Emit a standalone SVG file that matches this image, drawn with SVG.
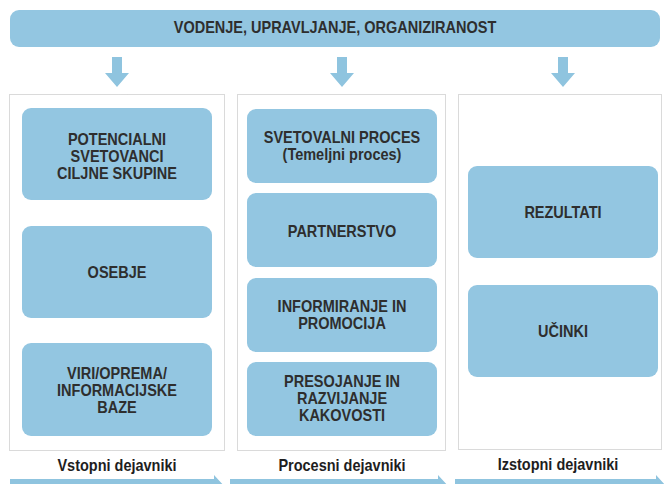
<svg xmlns="http://www.w3.org/2000/svg" width="664" height="484" viewBox="0 0 664 484">
<defs>
<style>
.box{fill:#93c6e1;}
.col{fill:none;stroke:#b4b4b4;stroke-width:1;stroke-dasharray:1 1;}
.t{font-family:"Liberation Sans",Arial,Helvetica,sans-serif;font-weight:bold;font-size:14.5px;fill:#2e2e2e;text-anchor:middle;}
.lbl{font-family:"Liberation Sans",Arial,Helvetica,sans-serif;font-weight:bold;font-size:14.5px;fill:#1e1e1e;text-anchor:middle;}
.arr{fill:#8fc4df;}
</style>
</defs>
<rect width="664" height="484" fill="#ffffff"/>

<g id="banner">
<rect class="box" x="10" y="10" width="650" height="37" rx="9"/>
<text class="t" transform="translate(335,33) scale(1,1.15)">VODENJE, UPRAVLJANJE, ORGANIZIRANOST</text>
</g>

<g id="columns">
<rect class="col" x="9.5" y="94.5" width="215" height="356"/>
<rect class="col" x="237.5" y="94.5" width="208" height="356"/>
<rect class="col" x="458.5" y="94.5" width="203" height="355"/>
</g>

<g id="connectors">
<polygon class="arr" points="112,57 122,57 122,73 129,73 117,87 105,73 112,73"/>
<polygon class="arr" points="337,57 347,57 347,73 354,73 342,87 330,73 337,73"/>
<polygon class="arr" points="558,57 568,57 568,73 575,73 563,87 551,73 558,73"/>
<polygon class="arr" points="10,479 214,479 214,475 226,488 10,488"/>
<polygon class="arr" points="230,479 438,479 438,475 450,488 230,488"/>
<polygon class="arr" points="455,479 656,479 656,475 668,488 455,488"/>
</g>

<g id="potencialni">
<rect class="box" x="22" y="108" width="190" height="92" rx="9"/>
<text class="t" transform="translate(117,145) scale(1,1.15)">POTENCIALNI</text>
<text class="t" transform="translate(117,162) scale(1,1.15)">SVETOVANCI</text>
<text class="t" transform="translate(117,179) scale(1,1.15)">CILJNE SKUPINE</text>
</g>
<g id="osebje">
<rect class="box" x="22" y="226" width="190" height="92" rx="9"/>
<text class="t" transform="translate(117,278) scale(1,1.15)">OSEBJE</text>
</g>
<g id="viri">
<rect class="box" x="22" y="343" width="190" height="93" rx="9"/>
<text class="t" transform="translate(117,379) scale(1,1.15)">VIRI/OPREMA/</text>
<text class="t" transform="translate(117,396) scale(1,1.15)">INFORMACIJSKE</text>
<text class="t" transform="translate(117,413) scale(1,1.15)">BAZE</text>
</g>

<g id="svetovalni">
<rect class="box" x="247" y="109" width="190" height="74" rx="9"/>
<text class="t" transform="translate(342,143) scale(1,1.15)">SVETOVALNI PROCES</text>
<text class="t" transform="translate(342,160) scale(1,1.15)">(Temeljni proces)</text>
</g>
<g id="partnerstvo">
<rect class="box" x="247" y="193" width="190" height="74" rx="9"/>
<text class="t" transform="translate(342,237) scale(1,1.15)">PARTNERSTVO</text>
</g>
<g id="informiranje">
<rect class="box" x="247" y="278" width="190" height="74" rx="9"/>
<text class="t" transform="translate(342,312) scale(1,1.15)">INFORMIRANJE IN</text>
<text class="t" transform="translate(342,329) scale(1,1.15)">PROMOCIJA</text>
</g>
<g id="presojanje">
<rect class="box" x="247" y="362" width="190" height="74" rx="9"/>
<text class="t" transform="translate(342,387) scale(1,1.15)">PRESOJANJE IN</text>
<text class="t" transform="translate(342,404) scale(1,1.15)">RAZVIJANJE</text>
<text class="t" transform="translate(342,421) scale(1,1.15)">KAKOVOSTI</text>
</g>

<g id="rezultati">
<rect class="box" x="468" y="166" width="190" height="92" rx="9"/>
<text class="t" transform="translate(563,218) scale(1,1.15)">REZULTATI</text>
</g>
<g id="ucinki">
<rect class="box" x="468" y="285" width="190" height="92" rx="9"/>
<text class="t" transform="translate(563,337) scale(1,1.15)">UČINKI</text>
</g>

<g id="labels">
<text class="lbl" transform="translate(117,471) scale(1,1.15)">Vstopni dejavniki</text>
<text class="lbl" transform="translate(342,471) scale(1,1.15)">Procesni dejavniki</text>
<text class="lbl" transform="translate(558,470) scale(1,1.15)">Izstopni dejavniki</text>
</g>
</svg>
